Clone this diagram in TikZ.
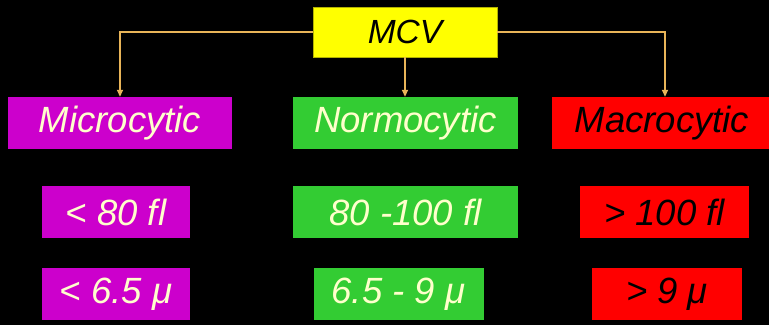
\documentclass[tikz,border=0pt]{standalone}
\usepackage{fontspec}
\setmainfont{Liberation Sans}
\usetikzlibrary{arrows.meta}
\definecolor{cyel}{HTML}{FFFF00}
\definecolor{cmag}{HTML}{CC00CC}
\definecolor{cgrn}{HTML}{33CC33}
\definecolor{cred}{HTML}{FF0000}
\definecolor{cline}{HTML}{E8B458}
\definecolor{ctxt}{HTML}{FFFFCC}
\tikzset{
  box/.style={rectangle, inner sep=0pt, font=\fontsize{36.5}{42}\selectfont\itshape},
  ybox/.style={box, fill=cyel, draw=cyel!70!black, line width=0.6pt, text=black},
  mbox/.style={box, fill=cmag, text=ctxt},
  gbox/.style={box, fill=cgrn, text=ctxt},
  rbox/.style={box, fill=cred, text=black},
  conn/.style={draw=cline, line width=2pt, -{Triangle[length=7pt,width=6pt]}},
}
\begin{document}
\begin{tikzpicture}[x=1pt,y=-1pt]
\useasboundingbox (0,0) rectangle (769,325);
\fill[black] (0,0) rectangle (769,325);
\node[ybox, minimum width=184pt, minimum height=50pt, font=\fontsize{33.5}{38}\selectfont\itshape] (mcv) at (405,32) {MCV};
\node[mbox, minimum width=224pt, minimum height=52pt] (micro) at (120,123) {Microcytic};
\node[gbox, minimum width=225pt, minimum height=52pt] (normo) at (405.5,123) {Normocytic};
\node[rbox, minimum width=220pt, minimum height=52pt] (macro) at (662,123) {Macrocytic};
\node[mbox, minimum width=148pt, minimum height=52pt] (m1) at (116,212) {< 80 fl};
\node[gbox, minimum width=225pt, minimum height=52pt] (n1) at (405.5,212) {80 -100 fl};
\node[rbox, minimum width=169pt, minimum height=52pt] (r1) at (664.5,212) {> 100 fl};
\node[mbox, minimum width=148pt, minimum height=52pt] (m2) at (116,294) {< 6.5 μ};
\node[gbox, minimum width=170pt, minimum height=52pt] (n2) at (398.5,294) {6.5 - 9 μ};
\node[rbox, minimum width=150pt, minimum height=52pt] (r2) at (667,294) {> 9 μ};
\coordinate (lc) at (120,32);
\coordinate (rc) at (665,32);
\draw[conn] (mcv.west) -- (lc) -- (micro.north);
\draw[conn] (mcv.south) -- (mcv.south |- normo.north);
\draw[conn] (mcv.east) -- (rc) -- (rc |- macro.north);
\end{tikzpicture}
\end{document}
